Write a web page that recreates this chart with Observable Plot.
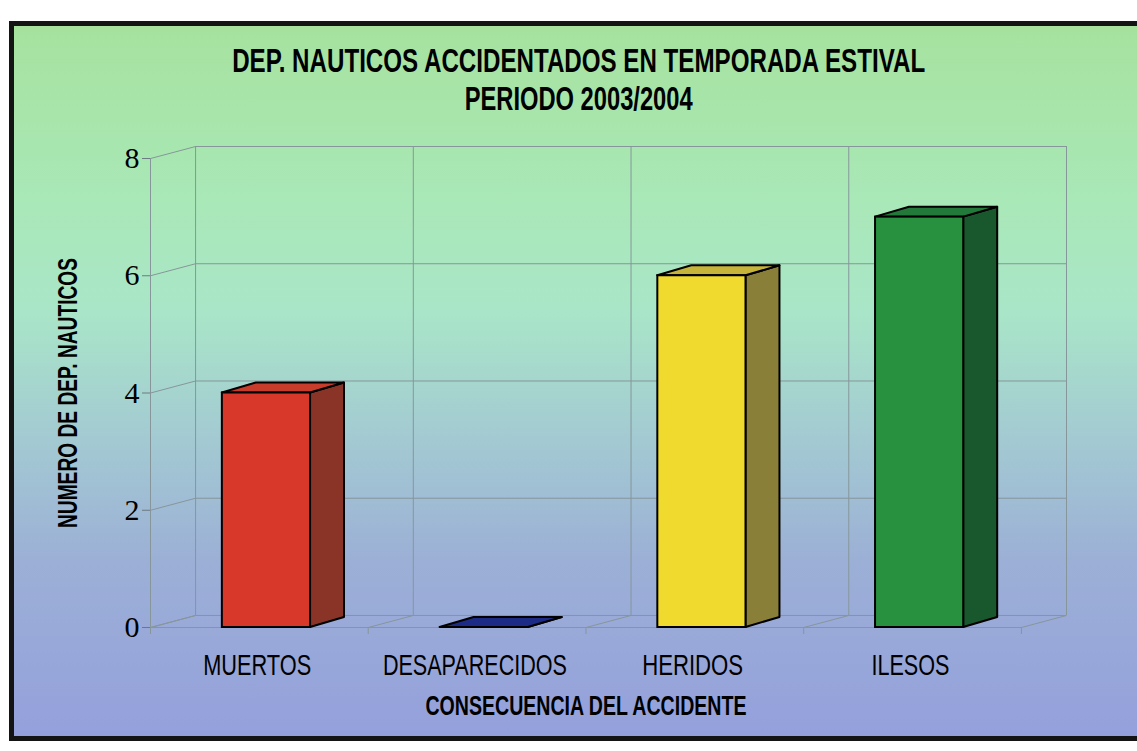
<!DOCTYPE html>
<html>
<head>
<meta charset="utf-8">
<script src="https://cdn.jsdelivr.net/npm/d3@7"></script>
<script src="https://cdn.jsdelivr.net/npm/@observablehq/plot@0.6"></script>
<style>
  html, body { margin: 0; padding: 0; background: #fff; width: 1137px; height: 751px; overflow: hidden; }
  #frame {
    position: absolute; left: 9px; top: 21px; width: 1150px; height: 720px; box-sizing: border-box;
    border: 5px solid #141414;
    background: linear-gradient(to bottom, #a6e29e 0%, #a9e8b8 25%, #a9e6c8 40%, #a3cad2 58%, #9cb0d6 75%, #94a0dc 100%);
  }
  .title { position: absolute; left: 0; width: 1157px; text-align: center; font-family: "Liberation Sans Narrow", "Arial Narrow", "Liberation Sans", Arial, sans-serif; font-weight: bold; color: #000; white-space: nowrap; }
  .title span { display: inline-block; transform-origin: center center; }
  #chart { position: absolute; left: 0; top: 120px; }
</style>
</head>
<body>
<div id="frame"></div>
<div class="title" id="t1" style="top:42px;font-size:33px;"><span>DEP. NAUTICOS ACCIDENTADOS EN TEMPORADA ESTIVAL</span></div>
<div class="title" id="t2" style="top:80px;font-size:33px;"><span>PERIODO 2003/2004</span></div>
<div id="chart"></div>
<script>
// ---- data ----
const categories = ["MUERTOS", "DESAPARECIDOS", "HERIDOS", "ILESOS"];
const values = [4, 0, 6, 7];
const yTicks = [0, 2, 4, 6, 8];
const yLabel = "NUMERO DE DEP. NAUTICOS";
const xLabel = "CONSECUENCIA DEL ACCIDENTE";

// ---- styles ----
const frontColors = ["#d8382a", "#1c2c86", "#f0da2e", "#27913f"];
const sideColors  = ["#8a3428", "#142060", "#8a7f38", "#19582d"];
const topColors   = ["#c83c2c", "#1c2c86", "#c6b43a", "#22793a"];

// ---- 3D geometry (in data units) ----
const wallDX = 0.207, wallDY = 0.205;   // back wall offset
const barDX = 0.156, barDY = 0.17;      // bar depth
const barStart = 0.33, barWidth = 0.405;

const bars = categories.map((c, i) => ({
  cat: c, v: values[i], xl: i + barStart, xr: i + barStart + barWidth,
  front: frontColors[i], side: sideColors[i], top: topColors[i]
}));
const sidePts = bars.flatMap(b => [
  {z: b.cat, x: b.xr, y1: 0, y2: b.v, fill: b.side},
  {z: b.cat, x: b.xr + barDX, y1: barDY, y2: b.v + barDY, fill: b.side}
]);
const topPts = bars.flatMap(b => [
  {z: b.cat, y: b.v, x1: b.xl, x2: b.xr, fill: b.top},
  {z: b.cat, y: b.v + barDY, x1: b.xl + barDX, x2: b.xr + barDX, fill: b.top}
]);
const n = categories.length;
const bounds = d3.range(n + 1);
const yMax = d3.max(yTicks);
const grid = "#86969a";

const plot = Plot.plot({
  width: 1137, height: 620,
  marginLeft: 150, marginRight: 71, marginTop: 26, marginBottom: 113,
  style: {background: "transparent", overflow: "visible"},
  x: {domain: [0, n + wallDX], axis: null},
  y: {domain: [0, yMax + wallDY], axis: null},
  marks: [
    Plot.ruleY(yTicks, {y: d => d + wallDY, x1: wallDX, x2: n + wallDX, stroke: grid, strokeWidth: 1}),
    Plot.link(yTicks, {x1: 0, y1: d => d, x2: wallDX, y2: d => d + wallDY, stroke: grid}),
    Plot.ruleX(bounds, {x: d => d + wallDX, y1: wallDY, y2: yMax + wallDY, stroke: grid}),
    Plot.link(bounds, {x1: d => d, y1: 0, x2: d => d + wallDX, y2: wallDY, stroke: grid}),
    Plot.ruleY([0], {x1: 0, x2: n, stroke: grid}),
    Plot.ruleX([0], {y1: 0, y2: yMax, stroke: grid}),
    Plot.axisX({ticks: bounds, tickSize: 7, tickFormat: () => "", stroke: grid, anchor: "bottom"}),
    Plot.axisY({ticks: yTicks, tickSize: 8, tickPadding: 3, stroke: "#6c7a80", fill: "#000",
      fontSize: 30, fontFamily: "'Liberation Serif', 'Times New Roman', serif", anchor: "left"}),
    Plot.areaY(sidePts, {x: "x", y1: "y1", y2: "y2", z: "z", fill: "fill", stroke: "#000", strokeWidth: 2, strokeLinejoin: "round"}),
    Plot.areaX(topPts, {y: "y", x1: "x1", x2: "x2", z: "z", fill: "fill", stroke: "#000", strokeWidth: 2, strokeLinejoin: "round"}),
    Plot.rectY(bars, {x1: "xl", x2: "xr", y1: 0, y2: "v", fill: "front", stroke: "#000", strokeWidth: 2}),
    Plot.text(categories, {x: (d, i) => i + 0.49, y: 0, dy: 38, text: d => d, fontSize: 29,
      fontFamily: "'Liberation Sans Narrow', 'Arial Narrow', 'Liberation Sans', Arial, sans-serif", fill: "#000"}),
    Plot.text([xLabel], {x: () => n / 2, y: () => 0, dy: 79, text: d => d, fontSize: 27, fontWeight: "bold",
      fontFamily: "'Liberation Sans Narrow', 'Arial Narrow', 'Liberation Sans', Arial, sans-serif", fill: "#000"}),
    Plot.text([yLabel], {x: () => 0, y: () => d3.mean(yTicks), dx: -82, rotate: -90, text: d => d, fontSize: 28, fontWeight: "bold",
      fontFamily: "'Liberation Sans Narrow', 'Arial Narrow', 'Liberation Sans', Arial, sans-serif", fill: "#000"})
  ]
});
document.getElementById("chart").appendChild(plot);

const targets = {"MUERTOS": 108, "DESAPARECIDOS": 184, "HERIDOS": 101, "ILESOS": 78,
  [xLabel]: 321, [yLabel]: 270};
plot.querySelectorAll("text").forEach(t => {
  const w = targets[t.textContent];
  if (w) { t.setAttribute("textLength", w); t.setAttribute("lengthAdjust", "spacingAndGlyphs"); }
});
[["t1", 693], ["t2", 228]].forEach(([id, w]) => {
  const s = document.querySelector("#" + id + " span");
  const cur = s.getBoundingClientRect().width;
  s.style.transform = `scaleX(${w / cur})`;
});
</script>
</body>
</html>
